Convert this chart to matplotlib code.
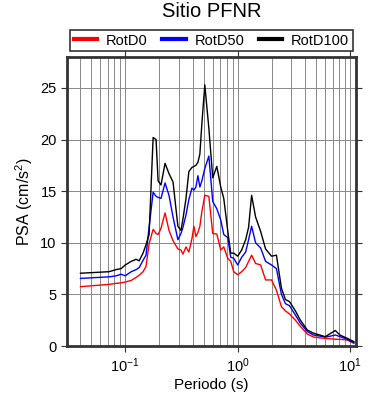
import matplotlib
matplotlib.use('Agg')
import matplotlib.pyplot as plt
import matplotlib.ticker as mtick
import numpy as np

# periodos (s)
periodo = [0.04, 0.072, 0.083, 0.092, 0.10, 0.113, 0.125, 0.133, 0.144, 0.153,
           0.163, 0.177, 0.188, 0.196, 0.208, 0.226, 0.245, 0.266, 0.294, 0.313,
           0.326, 0.347, 0.368, 0.392, 0.408, 0.425, 0.443, 0.461, 0.48, 0.51,
           0.554, 0.60, 0.652, 0.707, 0.752, 0.815, 0.867, 0.922, 1.0, 1.085,
           1.177, 1.25, 1.33, 1.443, 1.6, 1.77, 2.0, 2.21, 2.45, 2.66,
           2.89, 3.26, 3.61, 4.16, 4.7, 5.43, 6.0, 6.65, 7.37, 8.15,
           9.4, 10.8]

rotd0 = [5.75, 5.97, 6.07, 6.12, 6.2, 6.35, 6.65, 6.85, 7.2, 7.7,
         9.9, 11.3, 10.9, 10.8, 11.4, 12.9, 11.2, 10.2, 9.4, 9.3,
         8.9, 9.6, 9.1, 10.4, 11.6, 10.6, 11.0, 11.6, 13.0, 14.6,
         14.5, 10.9, 10.85, 9.3, 9.6, 8.5, 8.2, 7.2, 6.9, 7.2,
         7.6, 8.2, 8.8, 8.0, 7.85, 6.4, 6.4, 5.4, 3.8, 3.4,
         3.1, 2.5, 1.9, 1.16, 0.88, 0.78, 0.74, 0.7, 0.65, 0.65,
         0.58, 0.26]

rotd50 = [6.55, 6.7, 6.8, 6.95, 6.8, 7.2, 7.4, 7.6, 8.3, 8.8,
          11.5, 14.9, 14.5, 14.4, 14.3, 15.8, 14.6, 12.5, 10.3, 10.9,
          11.5, 12.7, 14.2, 15.3, 15.1, 15.4, 16.5, 15.4, 16.0, 17.2,
          18.4, 14.0, 13.3, 12.2, 10.8, 10.5, 8.6, 8.5, 7.85, 8.6,
          9.1, 10.3, 11.6, 10.0, 9.5, 8.2, 7.85, 7.5, 5.0, 4.1,
          3.9, 3.0, 2.2, 1.4, 1.07, 0.95, 0.87, 0.95, 1.07, 0.9,
          0.65, 0.32]

rotd100 = [7.05, 7.2, 7.4, 7.5, 7.85, 8.2, 8.4, 8.25, 9.0, 9.8,
           10.8, 20.2, 20.0, 16.0, 15.6, 17.7, 16.7, 15.9, 11.6, 11.2,
           12.3, 14.3, 16.9, 17.3, 17.4, 17.5, 17.8, 18.6, 21.5, 25.3,
           21.1, 16.3, 17.4, 15.4, 14.3, 11.2, 9.0, 9.0, 8.7, 9.3,
           10.3, 11.5, 14.6, 12.5, 11.1, 9.4, 8.7, 8.8, 5.6, 4.5,
           4.3, 3.4, 2.5, 1.55, 1.25, 1.05, 0.9, 1.2, 1.5, 1.05,
           0.75, 0.42]

plt.rcParams['font.family'] = ['Liberation Sans', 'DejaVu Sans']
plt.rcParams['mathtext.fontset'] = 'custom'
plt.rcParams['mathtext.rm'] = 'Liberation Sans'
plt.rcParams['mathtext.it'] = 'Liberation Sans:italic'

fig = plt.figure(figsize=(3.9, 4.0), dpi=100)
ax = fig.add_axes([0.172, 0.135, 0.74, 0.7225])

ax.plot(periodo, rotd0, color='red', lw=1.0, label='RotD0')
ax.plot(periodo, rotd50, color='blue', lw=1.0, label='RotD50')
ax.plot(periodo, rotd100, color='black', lw=1.0, label='RotD100')

ax.set_xscale('log')
ax.set_xlim(0.0304, 11.2)
ax.set_ylim(0, 28)
ax.yaxis.set_major_locator(mtick.MultipleLocator(5))

ax.grid(True, which='major', axis='both', color='#888888', lw=0.7)
ax.grid(True, which='minor', axis='x', color='#888888', lw=0.7)
ax.set_axisbelow(True)

ax.tick_params(which='major', direction='out', length=4, width=0.8,
               top=True, right=True, labelsize=10.5, colors='#333333',
               labelcolor='black')
ax.tick_params(which='minor', length=0)
for sp in ax.spines.values():
    sp.set_linewidth(2)
    sp.set_color('#333333')

ax.set_xlabel('Periodo (s)', fontsize=11, labelpad=2)
ax.set_ylabel('PSA (cm/s$^2$)', fontsize=11.5)
fig.text(0.543, 0.972, 'Sitio PFNR', fontsize=14.5, ha='center', va='center')

leg = ax.legend(loc='lower center', bbox_to_anchor=(0.5, 1.02), ncol=3,
                fontsize=10.5, frameon=True, fancybox=False, borderaxespad=0,
                handlelength=1.6, handletextpad=0.6, columnspacing=1.0,
                borderpad=0.25)
leg.get_frame().set_edgecolor('black')
leg.get_frame().set_linewidth(1.2)
for l in leg.get_lines():
    l.set_linewidth(3)

plt.savefig('out.png', dpi=100)
